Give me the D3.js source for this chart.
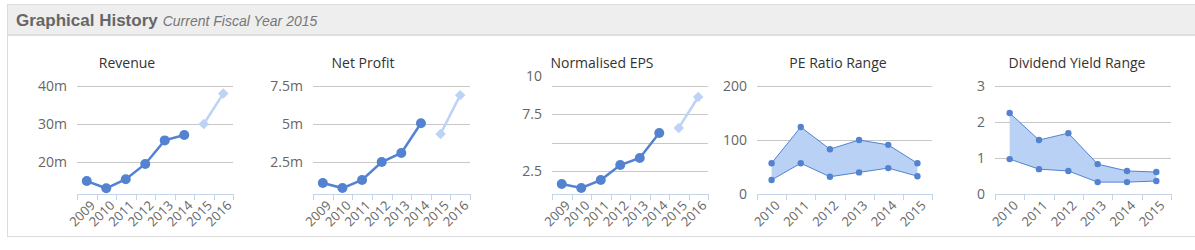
<!doctype html>
<html lang="en">
<head>
  <meta charset="utf-8">
  <title>Graphical History</title>
  <style>
    body {
      margin: 0;
      background: #fff;
    }
    svg {
      display: block;
    }
    .head-main {
      font: bold 17px "Liberation Sans", Arial, sans-serif;
      fill: #666;
    }
    .head-sub {
      font: italic 14px "Liberation Sans", Arial, sans-serif;
      fill: #777;
    }
    .title {
      font: 14px "Open Sans", sans-serif;
      fill: #333;
    }
    .ylab {
      font: 14px "Open Sans", sans-serif;
      fill: #666;
    }
    .xlab {
      font: 13px "Open Sans", sans-serif;
      fill: #666;
    }
    .grid {
      stroke: #c8c8c8;
      stroke-width: 1px;
    }
    .axis {
      stroke: #c6d4ea;
      stroke-width: 1px;
    }
  </style>
</head>
<body>
  <svg id="chart" width="1195" height="250"></svg>

  <script src="https://d3js.org/d3.v7.min.js"></script>
  <script>
    // data
    var years8 = ["2009", "2010", "2011", "2012", "2013", "2014", "2015", "2016"]
    var years6 = ["2010", "2011", "2012", "2013", "2014", "2015"]

    var revenue = [15.0, 13.1, 15.5, 19.5, 25.7, 27.1]
    var revenueForecast = [30.0, 38.0]
    var revenueTicks = [20, 30, 40]

    var netProfit = [1.12, 0.79, 1.32, 2.5, 3.1, 5.05]
    var netProfitForecast = [4.35, 6.9]
    var netProfitTicks = [2.5, 5, 7.5]

    var eps = [1.35, 1.0, 1.7, 3.03, 3.65, 5.85]
    var epsForecast = [6.3, 9.03]
    var epsTicks = [2.5, 5, 7.5, 10]

    var peHigh = [57, 124, 83, 100, 91, 57]
    var peLow = [26, 57, 32, 40, 48, 33]
    var peTicks = [0, 100, 200]

    var divHigh = [2.25, 1.5, 1.69, 0.83, 0.64, 0.61]
    var divLow = [0.97, 0.69, 0.64, 0.33, 0.33, 0.36]
    var divTicks = [0, 1, 2, 3]

    var dark = "#5383d0"
    var light = "#bcd3f6"
    var fillArea = "#b9d1f5"

    var svg = d3.select("#chart")

    // panel + header
    svg.append("rect").attr("x", 7.5).attr("y", 4.5).attr("width", 1195).attr("height", 232)
      .attr("fill", "#fff").attr("stroke", "#dcdcdc")
    svg.append("rect").attr("x", 8).attr("y", 5).attr("width", 1187).attr("height", 29).attr("fill", "#eeeeee")
    svg.append("rect").attr("x", 8).attr("y", 34).attr("width", 1187).attr("height", 2).attr("fill", "#dedede")
    var head = svg.append("text").attr("x", 16).attr("y", 26)
    head.append("tspan").attr("class", "head-main").text("Graphical History")
    head.append("tspan").attr("class", "head-sub").attr("dx", 5).text("Current Fiscal Year 2015")

    var plotTop = 86, plotBottom = 194

    var charts = [
      {title: "Revenue", cx: 127, left: 77, right: 233, cats: years8, domain: [11.6, 40],
        ticks: revenueTicks, fmt: function(d) { return d + "m" }, actual: revenue, forecast: revenueForecast},
      {title: "Net Profit", cx: 363, left: 313, right: 470, cats: years8, domain: [0.4, 7.5],
        ticks: netProfitTicks, fmt: function(d) { return d + "m" }, actual: netProfit, forecast: netProfitForecast},
      {title: "Normalised EPS", cx: 602, left: 552, right: 708, cats: years8, domain: [0.47, 10],
        ticks: epsTicks, fmt: function(d) { return d === 5 ? "" : String(d) }, lift: 10, actual: eps, forecast: epsForecast},
      {title: "PE Ratio Range", cx: 838, left: 757, right: 932, cats: years6, domain: [0, 200],
        ticks: peTicks, fmt: String, high: peHigh, low: peLow},
      {title: "Dividend Yield Range", cx: 1077, left: 995, right: 1171, cats: years6, domain: [0, 3],
        ticks: divTicks, fmt: String, high: divHigh, low: divLow}
    ]

    charts.forEach(function(c) {
      var g = svg.append("g")
      var x = d3.scaleBand().domain(c.cats).range([c.left, c.right])
      var y = d3.scaleLinear().domain(c.domain).range([plotBottom, plotTop])
      var cx = function(d, i) { return x(c.cats[i]) + x.bandwidth() / 2 }

      g.append("text").attr("class", "title").attr("x", c.cx).attr("y", 68)
        .attr("text-anchor", "middle").text(c.title)

      // grid
      g.selectAll(".grid").data(c.ticks.filter(function(t) { return t !== c.domain[0] }))
        .enter().append("line").attr("class", "grid")
        .attr("x1", c.left).attr("x2", c.right)
        .attr("y1", function(d) { return Math.round(y(d)) + 0.5 })
        .attr("y2", function(d) { return Math.round(y(d)) + 0.5 })

      g.selectAll(".ylab").data(c.ticks).enter().append("text").attr("class", "ylab")
        .attr("x", c.left - 10).attr("text-anchor", "end")
        .attr("y", function(d, i) {
          var yy = y(d) + 5
          if (c.lift && i === c.ticks.length - 1) yy -= c.lift
          return yy
        })
        .text(c.fmt)

      // x axis
      g.append("line").attr("class", "axis").attr("x1", c.left).attr("x2", c.right + 1)
        .attr("y1", plotBottom + 0.5).attr("y2", plotBottom + 0.5)
      var bounds = c.cats.map(function(d) { return x(d) }).concat([c.right])
      g.selectAll(".tick").data(bounds).enter().append("line").attr("class", "axis")
        .attr("x1", function(d) { return Math.round(d) + 0.5 })
        .attr("x2", function(d) { return Math.round(d) + 0.5 })
        .attr("y1", plotBottom).attr("y2", plotBottom + 6)
      g.selectAll(".xlab").data(c.cats).enter().append("text").attr("class", "xlab")
        .attr("text-anchor", "end")
        .attr("transform", function(d) {
          return "translate(" + (x(d) + x.bandwidth() / 2 + 6) + "," + (plotBottom + 9) + ") rotate(-45)"
        })
        .attr("dy", "0.35em")
        .text(function(d) { return d })

      if (c.actual) {
        var line = d3.line().x(cx).y(function(d) { return y(d) })
        g.append("path").datum(c.actual).attr("d", line)
          .attr("fill", "none").attr("stroke", dark).attr("stroke-width", 2.5)
        g.selectAll(".pt").data(c.actual).enter().append("circle")
          .attr("cx", cx).attr("cy", function(d) { return y(d) }).attr("r", 5).attr("fill", dark)

        var off = c.actual.length
        var fx = function(d, i) { return cx(d, i + off) }
        g.append("path").datum(c.forecast)
          .attr("d", d3.line().x(fx).y(function(d) { return y(d) }))
          .attr("fill", "none").attr("stroke", light).attr("stroke-width", 2.5)
        g.selectAll(".fpt").data(c.forecast).enter().append("path")
          .attr("d", d3.symbol(d3.symbolDiamond2, 70)())
          .attr("transform", function(d, i) { return "translate(" + fx(d, i) + "," + y(d) + ")" })
          .attr("fill", light)
      } else {
        var both = c.high.map(function(h, i) { return [h, c.low[i]] })
        g.append("path").datum(both)
          .attr("d", d3.area().x(cx).y0(function(d) { return y(d[1]) }).y1(function(d) { return y(d[0]) }))
          .attr("fill", fillArea)
        ;[c.high, c.low].forEach(function(s) {
          g.append("path").datum(s)
            .attr("d", d3.line().x(cx).y(function(d) { return y(d) }))
            .attr("fill", "none").attr("stroke", dark).attr("stroke-width", 1)
          g.selectAll(null).data(s).enter().append("circle")
            .attr("cx", cx).attr("cy", function(d) { return y(d) }).attr("r", 3.2).attr("fill", dark)
        })
      }
    })
  </script>
</body>
</html>
